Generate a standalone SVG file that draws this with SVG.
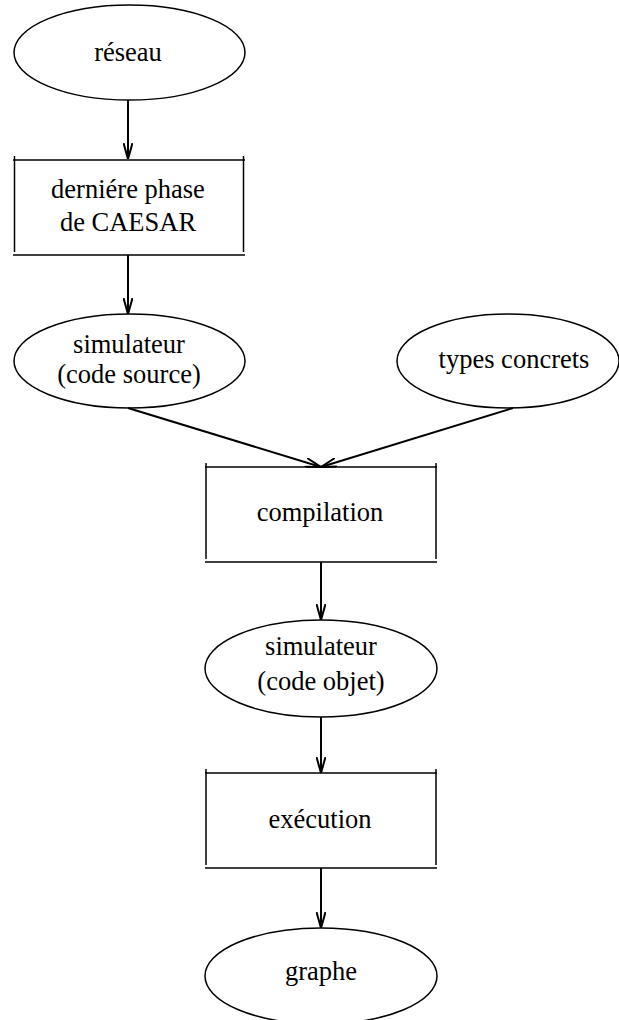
<svg xmlns="http://www.w3.org/2000/svg" width="619" height="1020" viewBox="0 0 619 1020">
<style>
.shape{fill:none;stroke:#000;stroke-width:1.5}
.edge{fill:none;stroke:#000;stroke-width:2}
.lbl{font-family:"Liberation Serif","Times New Roman",serif;font-size:26.5px;fill:#000;text-anchor:middle}
</style>
<defs>
<marker id="arr" viewBox="0 0 16 10" refX="16" refY="5" markerWidth="16" markerHeight="10" markerUnits="userSpaceOnUse" orient="auto">
<path d="M0,0.5 L16,5 L0,9.5" fill="none" stroke="#000" stroke-width="2"/>
</marker>
</defs>
<rect width="619" height="1020" fill="#fff"/>
<g id="connectors">
<line class="edge" x1="128" y1="100" x2="128" y2="159" marker-end="url(#arr)"/>
<line class="edge" x1="128" y1="255" x2="128" y2="314" marker-end="url(#arr)"/>
<line class="edge" x1="128" y1="408" x2="321" y2="467" marker-end="url(#arr)"/>
<line class="edge" x1="513" y1="408" x2="321" y2="467" marker-end="url(#arr)"/>
<line class="edge" x1="321" y1="562" x2="321" y2="620" marker-end="url(#arr)"/>
<line class="edge" x1="321" y1="717" x2="321" y2="773" marker-end="url(#arr)"/>
<line class="edge" x1="321" y1="868" x2="321" y2="928" marker-end="url(#arr)"/>
</g>
<g id="reseau">
<ellipse class="shape" cx="129.5" cy="52.5" rx="115.5" ry="47.5"/>
<text class="lbl" x="128" y="61">réseau</text>
</g>
<g id="derniere-phase">
<line class="shape" x1="13" y1="160" x2="245" y2="160"/>
<line class="shape" x1="13" y1="255" x2="245" y2="255"/>
<line class="shape" x1="14.5" y1="156" x2="14.5" y2="252"/>
<line class="shape" x1="243.5" y1="156" x2="243.5" y2="252"/>
<text class="lbl" x="128" y="198">derniére phase</text>
<text class="lbl" x="128" y="231">de CAESAR</text>
</g>
<g id="simulateur-source">
<ellipse class="shape" cx="129.5" cy="361" rx="115.5" ry="47"/>
<text class="lbl" x="129" y="353">simulateur</text>
<text class="lbl" x="129" y="383">(code source)</text>
</g>
<g id="types-concrets">
<ellipse class="shape" cx="508" cy="361" rx="111" ry="47"/>
<text class="lbl" x="514" y="368">types concrets</text>
</g>
<g id="compilation">
<line class="shape" x1="205" y1="467" x2="437" y2="467"/>
<line class="shape" x1="205" y1="562" x2="437" y2="562"/>
<line class="shape" x1="206" y1="463" x2="206" y2="559"/>
<line class="shape" x1="436" y1="463" x2="436" y2="559"/>
<text class="lbl" x="320" y="521">compilation</text>
</g>
<g id="simulateur-objet">
<ellipse class="shape" cx="321" cy="668.5" rx="116" ry="48.5"/>
<text class="lbl" x="321" y="655">simulateur</text>
<text class="lbl" x="321" y="690">(code objet)</text>
</g>
<g id="execution">
<line class="shape" x1="205" y1="773" x2="437" y2="773"/>
<line class="shape" x1="205" y1="868" x2="437" y2="868"/>
<line class="shape" x1="206" y1="769" x2="206" y2="865"/>
<line class="shape" x1="436" y1="769" x2="436" y2="865"/>
<text class="lbl" x="320" y="828">exécution</text>
</g>
<g id="graphe">
<ellipse class="shape" cx="321" cy="976" rx="116" ry="48"/>
<text class="lbl" x="321" y="980">graphe</text>
</g>
</svg>
